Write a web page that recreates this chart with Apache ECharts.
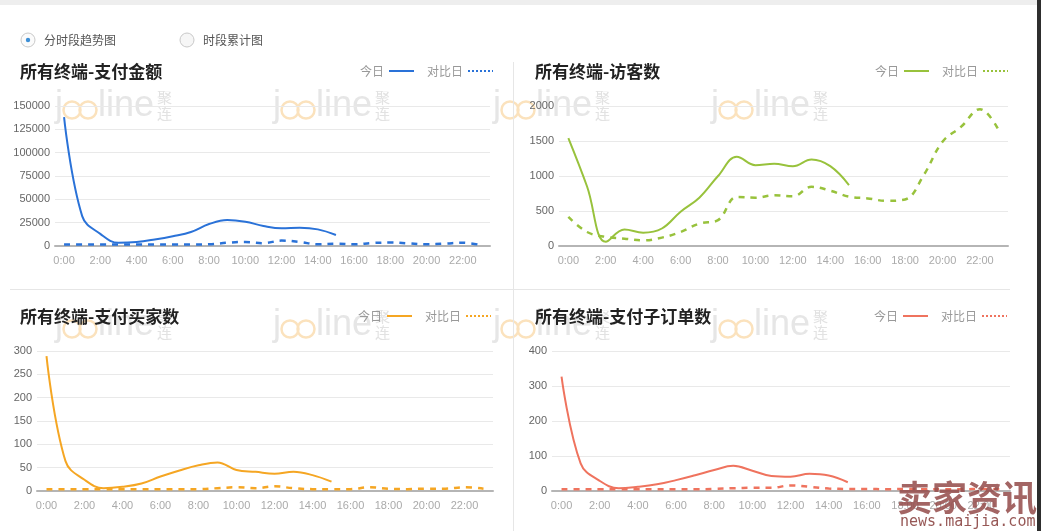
<!DOCTYPE html>
<html>
<head>
<meta charset="utf-8">
<script src="https://cdn.jsdelivr.net/npm/echarts@6/dist/echarts.min.js"></script>
<style>
html,body{margin:0;padding:0;background:#fff;}
#main{width:1041px;height:531px;}
</style>
</head>
<body>
<div id="main"></div>
<script>
const hours = ['0:00','1:00','2:00','3:00','4:00','5:00','6:00','7:00','8:00','9:00','10:00','11:00',
  '12:00','13:00','14:00','15:00','16:00','17:00','18:00','19:00','20:00','21:00','22:00','23:00'];

const titles = ['所有终端-支付金额','所有终端-访客数','所有终端-支付买家数','所有终端-支付子订单数'];
const legendNames = ['今日','对比日'];
const radioLabels = ['分时段趋势图','时段累计图'];

const payToday   = [138000, 32000, 13000, 3500, 4300, 7000, 10500, 15000, 23500, 27800, 26000, 21500, 19000, 19500, 17800, 11800];
const payCompare = [1500,1500,1500,1500,1500,1500,1500,1500,1800,3500,4300,3000,5800,4300,1800,2500,1800,3200,3700,2800,1800,2500,3500,1000];

const visitToday   = [1540, 850, 60, 235, 190, 250, 490, 690, 1000, 1275, 1155, 1175, 1140, 1235, 1140, 870];
const visitCompare = [415, 200, 130, 105, 80, 120, 200, 320, 370, 700, 690, 725, 710, 845, 790, 705, 680, 645, 665, 1015, 1490, 1705, 1955, 1655];

const buyerToday   = [289, 64, 24, 6, 9, 16, 31, 44, 55, 61, 45, 41, 37, 41, 34, 20];
const buyerCompare = [4,4,4,4,4,4,4,4,4,6,8,6,10,6,4,4,4,8,5,4,5,5,8,5];

const orderToday   = [327, 79, 29, 8, 12, 19, 31, 45, 60, 72, 58, 43, 41, 49, 44, 25];
const orderCompare = [5,5,5,5,5,5,5,5,6,8,9,9,16,12,7,6,6,5,6,5,5,5,6,5];

const yMax = [150000, 2000, 300, 400];
const yStep = [25000, 500, 50, 100];

const colors = ['#2a72d8', '#98c23c', '#f5a623', '#ef735e'];
const todayData = [payToday, visitToday, buyerToday, orderToday];
const compareData = [payCompare, visitCompare, buyerCompare, orderCompare];

const grids = [
  {left: 55, top: 106, width: 435, height: 140},
  {left: 559, top: 106, width: 449, height: 140},
  {left: 37, top: 351, width: 456, height: 140},
  {left: 552, top: 351, width: 458, height: 140}
];
const titlePos = [{left: 20, top: 63}, {left: 535, top: 63}, {left: 20, top: 308}, {left: 535, top: 308}];
const legendPos = [{right: 547, top: 65}, {right: 32, top: 65}, {right: 549, top: 310}, {right: 33, top: 310}];

const xAxes = [], yAxes = [], series = [], title = [], legend = [];
for (let i = 0; i < 4; i++) {
  xAxes.push({
    type: 'category', gridIndex: i, data: hours, boundaryGap: true,
    axisLine: {lineStyle: {color: '#b5b5b5', width: 2}},
    axisTick: {show: false},
    axisLabel: {interval: 1, color: '#aaa', fontSize: 11, fontFamily: 'Liberation Sans', margin: 9}
  });
  yAxes.push({
    type: 'value', gridIndex: i, min: 0, max: yMax[i], interval: yStep[i],
    axisLine: {show: false}, axisTick: {show: false},
    axisLabel: {color: '#666', fontSize: 11, fontFamily: 'Liberation Sans', margin: 5, formatter: v => String(v)},
    splitLine: {lineStyle: {color: '#e9e9e9', width: 1}}
  });
  series.push({
    name: legendNames[0] + i, type: 'line', xAxisIndex: i, yAxisIndex: i,
    data: todayData[i], smooth: 0.4, symbol: 'none',
    lineStyle: {color: colors[i], width: 2}, itemStyle: {color: colors[i]}, z: 3
  });
  series.push({
    name: legendNames[1] + i, type: 'line', xAxisIndex: i, yAxisIndex: i,
    data: compareData[i], smooth: 0.4, symbol: 'none',
    lineStyle: {color: colors[i], width: 2.5, type: [6, 6]}, itemStyle: {color: colors[i]}, z: 2
  });
  title.push(Object.assign({
    text: titles[i], padding: 0,
    textStyle: {fontSize: 17, fontWeight: 'bold', color: '#222', fontFamily: 'Noto Sans CJK SC'}
  }, titlePos[i]));
  legend.push(Object.assign({
    padding: 0, align: 'right', itemWidth: 25, itemHeight: 14, itemGap: 12,
    formatter: n => n.replace(/\d+$/, ''),
    textStyle: {color: '#999', fontSize: 12, fontFamily: 'Noto Sans CJK SC'},
    data: [
      {name: legendNames[0] + i, lineStyle: {width: 2}, itemStyle: {opacity: 0}},
      {name: legendNames[1] + i, lineStyle: {type: [2, 2], width: 2}, itemStyle: {opacity: 0}}
    ],
    selectedMode: false
  }, legendPos[i]));
}

function watermark(x, y) {
  return {
    type: 'group', x: x, y: y, z: 0, silent: true,
    children: [
      {type: 'text', x: 0, y: 0, style: {text: 'j', fontSize: 36, fontFamily: 'Liberation Sans', fill: '#e6e6e6', verticalAlign: 'middle'}},
      {type: 'circle', shape: {cx: 17, cy: 4, r: 8.5}, style: {fill: 'none', stroke: '#fbe2bd', lineWidth: 2.5}},
      {type: 'circle', shape: {cx: 33, cy: 4, r: 8.5}, style: {fill: 'none', stroke: '#fbe2bd', lineWidth: 2.5}},
      {type: 'text', x: 43, y: 0, style: {text: 'line', fontSize: 36, fontFamily: 'Liberation Sans', fill: '#e6e6e6', verticalAlign: 'middle'}},
      {type: 'text', x: 102, y: -9, style: {text: '聚', fontSize: 15, fontFamily: 'Noto Sans CJK SC', fill: '#e2e2e2', verticalAlign: 'middle'}},
      {type: 'text', x: 102, y: 7, style: {text: '连', fontSize: 15, fontFamily: 'Noto Sans CJK SC', fill: '#e2e2e2', verticalAlign: 'middle'}}
    ]
  };
}

const graphic = [
  {type: 'rect', shape: {x: 0, y: 0, width: 1041, height: 5}, style: {fill: '#eeeeee'}, z: 1},
  {type: 'rect', shape: {x: 1037, y: 0, width: 4, height: 531}, style: {fill: '#2e2e2e'}, z: 1},
  {type: 'line', shape: {x1: 513.5, y1: 62, x2: 513.5, y2: 531}, style: {stroke: '#e6e6e6', lineWidth: 1}, z: 1},
  {type: 'line', shape: {x1: 10, y1: 289.5, x2: 1010, y2: 289.5}, style: {stroke: '#e6e6e6', lineWidth: 1}, z: 1},
  {type: 'circle', shape: {cx: 28, cy: 40, r: 7}, style: {fill: '#fbfbfb', stroke: '#c8c8c8', lineWidth: 1}, z: 1},
  {type: 'circle', shape: {cx: 28, cy: 40, r: 2.2}, style: {fill: '#3d8fd6'}, z: 2},
  {type: 'text', x: 44, y: 40, style: {text: radioLabels[0], fontSize: 12, fontFamily: 'Noto Sans CJK SC', fill: '#555', verticalAlign: 'middle'}, z: 1},
  {type: 'circle', shape: {cx: 187, cy: 40, r: 7}, style: {fill: '#f6f6f6', stroke: '#c8c8c8', lineWidth: 1}, z: 1},
  {type: 'text', x: 203, y: 40, style: {text: radioLabels[1], fontSize: 12, fontFamily: 'Noto Sans CJK SC', fill: '#555', verticalAlign: 'middle'}, z: 1},
  watermark(55, 106), watermark(273, 106), watermark(493, 106), watermark(711, 106),
  watermark(55, 325), watermark(273, 325), watermark(493, 325), watermark(711, 325),
  {type: 'text', x: 897, y: 498, z: 100, style: {text: '卖家资讯', fontSize: 35, fontWeight: 'bold', fontFamily: 'Noto Sans CJK SC', fill: 'rgba(150,80,78,0.88)', verticalAlign: 'middle'}},
  {type: 'text', x: 900, y: 522, z: 100, style: {text: 'news.maijia.com', fontSize: 15, fontFamily: 'DejaVu Sans Mono', fill: 'rgba(140,70,68,0.9)', verticalAlign: 'middle'}}
];

const chart = echarts.init(document.getElementById('main'), null, {renderer: 'canvas'});
chart.setOption({
  animation: false,
  title: title,
  legend: legend,
  grid: grids,
  xAxis: xAxes,
  yAxis: yAxes,
  series: series,
  graphic: graphic
});
</script>
</body>
</html>
